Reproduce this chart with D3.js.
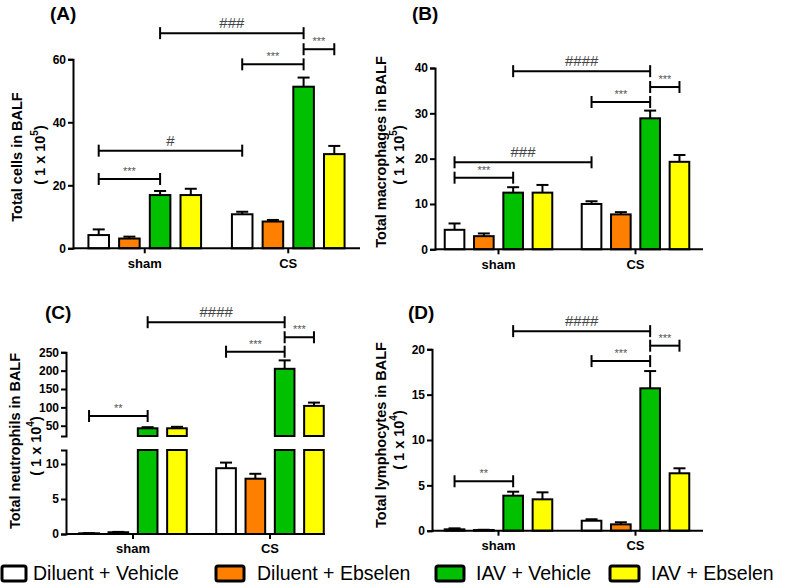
<!DOCTYPE html>
<html><head><meta charset="utf-8">
<script src="https://cdn.jsdelivr.net/npm/d3@7"></script>
<style>body{margin:0;background:#fff} svg{display:block}</style>
</head><body><svg id="c" width="787" height="588"></svg>
<script>
// ---------- DATA ----------
const groups = ["sham", "CS"];
const series = ["Diluent + Vehicle", "Diluent + Ebselen", "IAV + Vehicle", "IAV + Ebselen"];
const seriesColors = ["#FFFFFF", "#FF8000", "#00C000", "#FFFF00"];

// (A) Total cells in BALF (1 x 10^5) : [sham], [CS]
const cellsMean = [[4.2, 3.1, 16.9, 16.9], [10.8, 8.5, 51.3, 29.9]];
const cellsErr  = [[6.0, 3.7, 18.2, 18.9], [11.6, 9.0, 54.2, 32.5]];
const cellsTicks = [0, 20, 40, 60];
// [group1, series1, group2, series2, y value, label]
const cellsSig = [[0,2,1,2,68.3,"###"],[1,2,1,3,63.2,"***"],[1,0,1,2,58.4,"***"],[0,0,1,0,31,"#"],[0,0,0,2,22,"***"]];

// (B) Total macrophages in BALF (1 x 10^5)
const macroMean = [[4.3, 2.9, 12.5, 12.5], [10.0, 7.7, 28.9, 19.3]];
const macroErr  = [[5.7, 3.5, 13.7, 14.2], [10.6, 8.2, 30.6, 20.8]];
const macroTicks = [0, 10, 20, 30, 40];
const macroSig = [[0,2,1,2,39.3,"####"],[1,2,1,3,35.8,"***"],[1,0,1,2,32.5,"***"],[0,0,1,0,19.2,"###"],[0,0,0,2,15.8,"***"]];

// (C) Total neutrophils in BALF (1 x 10^4) - broken axis
const neutMean = [[0.1, 0.25, 43, 43], [9.4, 7.9, 205, 104]];
const neutErr  = [[0.12, 0.3, 46, 47], [10.2, 8.6, 228, 113]];
const neutTicksLow = [0, 5, 10];
const neutTicksHigh = [50, 100, 150, 200, 250];
const neutSig = [[0,2,1,2,332,"####"],[1,2,1,3,291,"***"],[1,0,1,2,251.6,"***"],[0,0,0,2,76.4,"**"]];

// (D) Total lymphocytes in BALF (1 x 10^4)
const lymphMean = [[0.15, 0.08, 3.86, 3.46], [1.1, 0.7, 15.7, 6.33]];
const lymphErr  = [[0.26, 0.1, 4.3, 4.23], [1.26, 0.93, 17.6, 6.88]];
const lymphTicks = [0, 5, 10, 15, 20];
const lymphSig = [[0,2,1,2,22.0,"####"],[1,2,1,3,20.4,"***"],[1,0,1,2,18.7,"***"],[0,0,0,2,5.45,"**"]];

// ---------- DRAW ----------
const svg = d3.select("#c");
const FONT = "'Liberation Sans', Arial, Helvetica, sans-serif";

function panel(cfg) {
  const g = svg.append("g");
  const xg = d3.scaleBand().domain(groups).range(cfg.band).padding(0);
  const inner = xg.bandwidth() * 0.785;
  const xs = d3.scaleBand().domain(series).range([-inner / 2, inner / 2]).paddingInner(0.33).paddingOuter(0);
  const cx = (gi, si) => xg(groups[gi]) + xg.bandwidth() / 2 + xs(series[si]) + xs.bandwidth() / 2;

  let yVal, yAxisSegs;
  if (cfg.broken) {
    const yLow = d3.scaleLinear().domain(cfg.lowDomain).range(cfg.lowRange);
    const yHigh = d3.scaleLinear().domain(cfg.highDomain).range(cfg.highRange);
    yVal = v => v <= cfg.lowDomain[1] ? yLow(v) : yHigh(v);
    yAxisSegs = [[yLow, cfg.ticksLow], [yHigh, cfg.ticksHigh]];
    cfg.yLow = yLow; cfg.yHigh = yHigh;
  } else {
    const y = d3.scaleLinear().domain(cfg.domain).range(cfg.range);
    yVal = y;
    yAxisSegs = [[y, cfg.ticks]];
  }
  const y0 = yVal(0);

  cfg.mean.forEach((row, gi) => row.forEach((v, si) => {
    const x = cx(gi, si) - xs.bandwidth() / 2;
    const w = xs.bandwidth();
    const style = r => r.attr("fill", seriesColors[si]).attr("stroke", "#000").attr("stroke-width", 2);
    if (cfg.broken && v > cfg.lowDomain[1]) {
      const yl = cfg.yLow, yh = cfg.yHigh;
      style(g.append("rect").attr("x", x).attr("width", w)
        .attr("y", yl(cfg.lowDomain[1])).attr("height", yl(0) - yl(cfg.lowDomain[1])));
      style(g.append("rect").attr("x", x).attr("width", w)
        .attr("y", yh(v)).attr("height", yh(cfg.highDomain[0]) - yh(v)));
    } else {
      style(g.append("rect").attr("x", x).attr("width", w)
        .attr("y", yVal(v)).attr("height", Math.max(0, y0 - yVal(v))));
    }
    const e = cfg.err[gi][si];
    const xc = cx(gi, si);
    g.append("line").attr("x1", xc).attr("x2", xc).attr("y1", yVal(v)).attr("y2", yVal(e))
      .attr("stroke", "#000").attr("stroke-width", 2);
    g.append("line").attr("x1", xc - 6).attr("x2", xc + 6).attr("y1", yVal(e)).attr("y2", yVal(e))
      .attr("stroke", "#000").attr("stroke-width", 2);
  }));

  yAxisSegs.forEach(([sc, ticks]) => {
    const ax = g.append("g").attr("transform", `translate(${cfg.yAxisX},0)`)
      .call(d3.axisLeft(sc).tickValues(ticks).tickSize(5).tickSizeOuter(5).tickPadding(2));
    ax.select(".domain").attr("stroke-width", 2);
    ax.selectAll(".tick line").attr("stroke-width", 2);
    ax.selectAll("text").attr("font-family", FONT).attr("font-weight", "bold").attr("font-size", 12).attr("fill", "#000");
  });

  const xa = g.append("g").attr("transform", `translate(0,${y0})`)
    .call(d3.axisBottom(xg).tickSize(5).tickSizeOuter(0).tickPadding(5));
  xa.select(".domain").attr("d", `M${cfg.yAxisX},0H${cfg.xEnd}`).attr("stroke-width", 2);
  xa.selectAll(".tick line").attr("stroke-width", 2);
  xa.selectAll("text").attr("font-family", FONT).attr("font-weight", "bold").attr("font-size", 13).attr("fill", "#000");

  cfg.sig.forEach(([g1, s1, g2, s2, v, lab]) => {
    const yy = yVal(v);
    const xa1 = cx(g1, s1), xa2 = cx(g2, s2);
    g.append("line").attr("x1", xa1).attr("x2", xa2).attr("y1", yy).attr("y2", yy).attr("stroke", "#000").attr("stroke-width", 2);
    [xa1, xa2].forEach(xx => g.append("line").attr("x1", xx).attr("x2", xx).attr("y1", yy - 6).attr("y2", yy + 6).attr("stroke", "#000").attr("stroke-width", 2));
    const isHash = lab.startsWith("#");
    g.append("text").attr("x", (xa1 + xa2) / 2).attr("y", yy - (isHash ? 5 : 4))
      .attr("text-anchor", "middle").attr("font-family", FONT)
      .attr("font-size", isHash ? 15 : 11).attr("fill", isHash ? "#444" : "#555").text(lab);
  });

  g.append("text").attr("x", cfg.letterPos[0]).attr("y", cfg.letterPos[1])
    .attr("font-family", FONT).attr("font-weight", "bold").attr("font-size", 19).text(cfg.letter);

  g.append("text").attr("transform", `translate(${cfg.title1Pos[0]},${cfg.title1Pos[1]}) rotate(-90)`)
    .attr("text-anchor", "middle").attr("dominant-baseline", "central")
    .attr("font-family", FONT).attr("font-weight", "bold").attr("font-size", 14.5).text(cfg.title);
  const t2 = g.append("text").attr("transform", `translate(${cfg.title2Pos[0]},${cfg.title2Pos[1]}) rotate(-90)`)
    .attr("text-anchor", "middle").attr("dominant-baseline", "central")
    .attr("font-family", FONT).attr("font-weight", "bold").attr("font-size", 14.5);
  t2.append("tspan").text("( 1 x 10");
  t2.append("tspan").attr("font-size", 10).attr("dy", -6).text(cfg.exp);
  t2.append("tspan").attr("dy", 6).text(")");
}

panel({ mean: cellsMean, err: cellsErr, ticks: cellsTicks, sig: cellsSig,
  domain: [0, 60], range: [248.3, 59.3], band: [73, 360], yAxisX: 73, xEnd: 360,
  letter: "(A)", letterPos: [50, 20], title: "Total cells in BALF", exp: "5",
  title1Pos: [17, 157], title2Pos: [40, 155] });

panel({ mean: macroMean, err: macroErr, ticks: macroTicks, sig: macroSig,
  domain: [0, 40], range: [249.3, 68], band: [430, 704], yAxisX: 435, xEnd: 703,
  letter: "(B)", letterPos: [412, 20], title: "Total macrophages in BALF", exp: "5",
  title1Pos: [381, 152], title2Pos: [399, 155] });

panel({ mean: neutMean, err: neutErr, broken: true, sig: neutSig,
  lowDomain: [0, 12], lowRange: [534, 450], highDomain: [22, 250], highRange: [436, 352.3],
  ticksLow: neutTicksLow, ticksHigh: neutTicksHigh,
  band: [64.5, 338.5], yAxisX: 66, xEnd: 325,
  letter: "(C)", letterPos: [45, 319], title: "Total neutrophils in BALF", exp: "4",
  title1Pos: [15, 441], title2Pos: [36, 446] });

panel({ mean: lymphMean, err: lymphErr, ticks: lymphTicks, sig: lymphSig,
  domain: [0, 20], range: [530.7, 349.3], band: [430, 704], yAxisX: 432, xEnd: 703,
  letter: "(D)", letterPos: [408, 319], title: "Total lymphocytes in BALF", exp: "4",
  title1Pos: [381, 435], title2Pos: [399, 440] });

// legend
const legBox = [[2, 24], [216, 28], [436, 28], [610, 29]];
const legText = [33, 257, 476, 651];
const leg = svg.append("g");
series.forEach((s, i) => {
  leg.append("rect").attr("x", legBox[i][0]).attr("y", 566).attr("width", legBox[i][1]).attr("height", 15).attr("rx", 2)
    .attr("fill", seriesColors[i]).attr("stroke", "#000").attr("stroke-width", 3);
  leg.append("text").attr("x", legText[i]).attr("y", 580)
    .attr("font-family", FONT).attr("font-size", 19.5).attr("fill", "#000").text(s);
});
</script>
</body></html>
